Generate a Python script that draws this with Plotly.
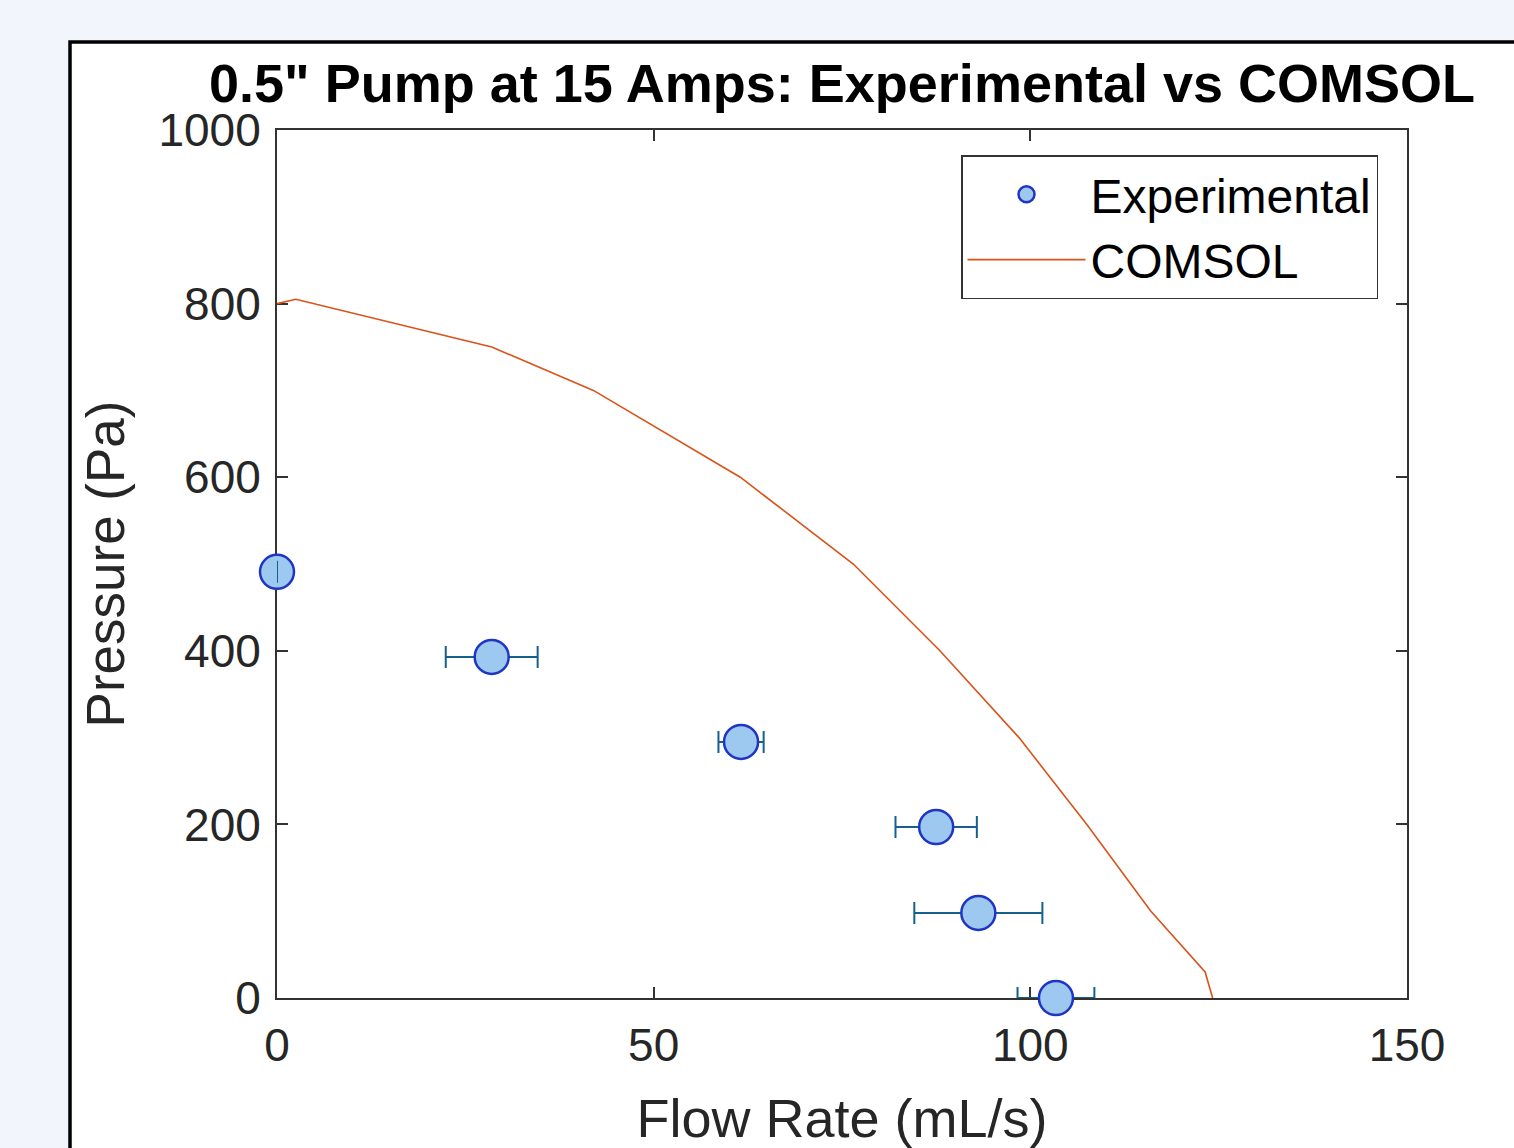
import plotly.graph_objects as go

# Experimental data
exp_flow = [0.0, 28.5, 61.6, 87.5, 93.1, 103.4]
exp_pressure = [491, 393, 295, 197, 98, 0]
exp_flow_err = [0.0, 6.1, 3.0, 5.4, 8.5, 5.1]

# COMSOL curve
comsol_flow = [0.0, 2.5, 28.5, 42.0, 61.5, 76.5, 88.0, 98.5, 107.5, 116.0, 123.2, 124.2]
comsol_pressure = [800, 805, 750, 700, 600, 500, 400, 300, 200, 100, 30, 0]

x_ticks = [0, 50, 100, 150]
y_ticks = [0, 200, 400, 600, 800, 1000]

W, H = 1514, 1148
L, R, T, B = 277, 107, 130, 150
pw = W - L - R
ph = H - T - B

FONT = "Liberation Sans, Arial, sans-serif"
TXT = "#262626"

fig = go.Figure()

# COMSOL line
fig.add_trace(go.Scatter(
    x=comsol_flow, y=comsol_pressure, mode="lines", name="COMSOL",
    line=dict(color="#D95319", width=1.6), cliponaxis=False,
))

# Experimental markers with error bars (error bars under markers)
fig.add_trace(go.Scatter(
    x=exp_flow, y=exp_pressure, mode="markers", name="Experimental",
    marker=dict(size=34, color="#9dc8ef", line=dict(color="#1f35c4", width=2.5)),
    error_x=dict(type="data", array=exp_flow_err, visible=True,
                 color="#15608e", thickness=2, width=11),
    cliponaxis=False,
))

# zero-width error bar drawn over the first marker
zero_idx = [i for i, e in enumerate(exp_flow_err) if e == 0]
fig.add_trace(go.Scatter(
    x=[exp_flow[i] for i in zero_idx], y=[exp_pressure[i] for i in zero_idx],
    mode="markers", showlegend=False, hoverinfo="skip",
    marker=dict(size=1, opacity=0),
    error_x=dict(type="data", array=[exp_flow_err[i] for i in zero_idx], visible=True,
                 color="#15608e", thickness=2, width=11),
    cliponaxis=False,
))

# reorder legend: Experimental first
fig.data[0].legendrank = 2
fig.data[1].legendrank = 1

# white panel with black frame
fig.add_shape(type="rect", xref="paper", yref="paper",
              x0=(70 - L) / pw, x1=1.3, y0=-0.5, y1=(H - B - 42) / ph,
              line=dict(color="black", width=3.5), fillcolor="white", layer="below")

axis_common = dict(
    showline=True, linecolor="#333333", linewidth=2, mirror="ticks",
    ticks="inside", ticklen=11, tickwidth=1.5, tickcolor="#333333",
    showgrid=False, zeroline=False, layer="below traces", automargin=False,
    tickfont=dict(family=FONT, size=46, color=TXT),
)

fig.update_layout(
    width=W, height=H,
    margin=dict(l=L, r=R, t=T, b=B, autoexpand=False),
    paper_bgcolor="#f2f5fb", plot_bgcolor="white",
    title=dict(text="<b>0.5\" Pump at 15 Amps: Experimental vs COMSOL</b>",
               x=0.5, xref="paper", xanchor="center",
               y=1 - 83 / H, yref="container", yanchor="middle",
               font=dict(family=FONT, size=54, color="black")),
    xaxis=dict(range=[0, 150], tickvals=x_ticks, ticktext=[str(v) for v in x_ticks],
               ticklabelstandoff=6,
               title=dict(text="Flow Rate (mL/s)", font=dict(family=FONT, size=54, color=TXT),
                          standoff=30),
               **axis_common),
    yaxis=dict(range=[0, 1000], tickvals=y_ticks, ticktext=[str(v) for v in y_ticks],
               ticklabelstandoff=5,
               title=dict(text="Pressure (Pa)", font=dict(family=FONT, size=53, color=TXT),
                          standoff=17),
               **axis_common),
    legend=dict(x=(1378 - L) / pw, xanchor="right", y=(H - B - 155) / ph, yanchor="top",
                bgcolor="white", bordercolor="#333333", borderwidth=1.5,
                font=dict(family=FONT, size=48, color="black"),
                itemwidth=118, tracegroupgap=0),
    showlegend=True,
)

fig.write_html("out.html")
